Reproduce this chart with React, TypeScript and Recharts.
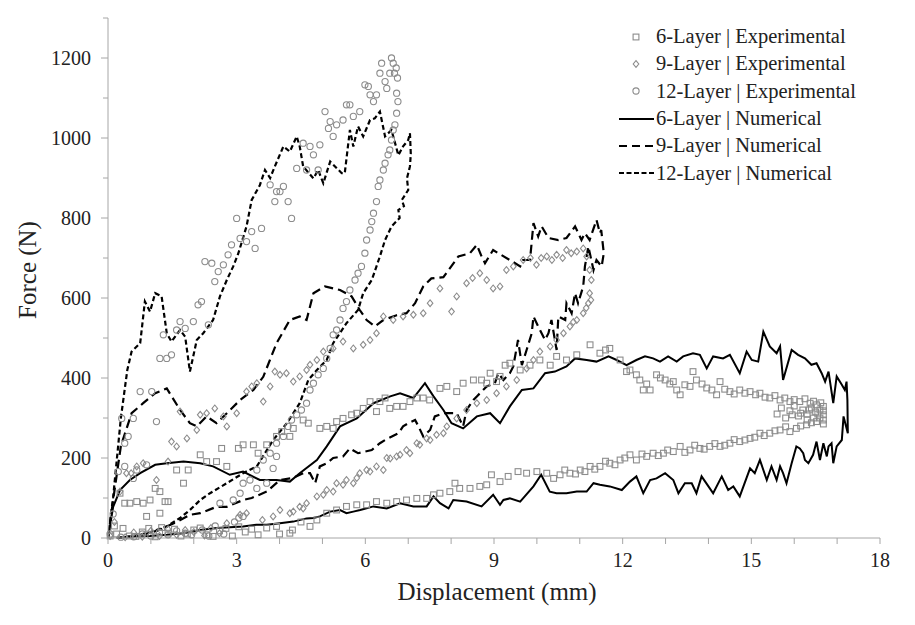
import React from 'react';
import { ComposedChart, Legend, Label, Line, Scatter, XAxis, YAxis } from 'recharts';

type Pair = [number, number];

// Axis ticks
const X_TICKS = [0, 1, 2, 3, 4, 5, 6, 7, 8, 9, 10, 11, 12, 13, 14, 15, 16, 17, 18];
const Y_TICKS = [0, 100, 200, 300, 400, 500, 600, 700, 800, 900, 1000, 1100, 1200, 1300];

// 6-Layer | Experimental (squares), loading then unloading
const exp6Layer: Pair[] = [
  [0.05, 5], [0.15, 30], [0.28, 112], [0.39, 87], [0.51, 87], [0.67, 91], [0.82, 87], [0.9, 54],
  [0.98, 95], [1.1, 124], [1.21, 116], [1.21, 62], [1.33, 91], [1.4, 91], [1.6, 170], [1.76, 137],
  [1.87, 170], [2.15, 208], [2.3, 191], [2.53, 191], [2.65, 224], [2.77, 179], [3.04, 224], [3.15, 233],
  [3.39, 233], [3.5, 212], [3.7, 233], [3.93, 254], [4.05, 266], [4.24, 254], [4.32, 274], [4.55, 295],
  [4.67, 287], [4.94, 274], [5.1, 279], [5.25, 274], [5.33, 291], [5.48, 299], [5.68, 308], [5.8, 312],
  [5.95, 324], [6.11, 341], [6.26, 316], [6.34, 341], [6.46, 350], [6.57, 324], [6.73, 329], [6.88, 329],
  [7.04, 341], [7.2, 350], [7.35, 350], [7.5, 345], [7.74, 374], [7.9, 379], [8.13, 366], [8.28, 387],
  [8.52, 395], [8.71, 395], [8.83, 387], [8.91, 412], [9.06, 391], [9.14, 404], [9.26, 432], [9.37, 437],
  [9.61, 420], [9.84, 432], [10.07, 445], [10.31, 432], [10.46, 454], [10.69, 445], [10.93, 458],
  [11.24, 483], [11.47, 462], [11.6, 470], [11.7, 474], [11.94, 445], [12.09, 416], [12.17, 420],
  [12.32, 408], [12.4, 395], [12.48, 370], [12.56, 385], [12.64, 370], [12.79, 408], [12.88, 400],
  [12.99, 395], [13.1, 385], [13.18, 391], [13.26, 370], [13.34, 358], [13.45, 383], [13.57, 379],
  [13.64, 416], [13.72, 395], [13.85, 385], [13.96, 375], [14.08, 370], [14.19, 358], [14.27, 391],
  [14.38, 372], [14.5, 366], [14.6, 360], [14.73, 370], [14.85, 362], [14.97, 366], [15.1, 358],
  [15.2, 362], [15.32, 352], [15.43, 350], [15.55, 356], [15.67, 345], [15.78, 350], [15.9, 341],
  [16.0, 346], [16.13, 341], [16.25, 348], [16.37, 337], [16.45, 342], [16.52, 333], [16.62, 338],
  [16.68, 329], [16.6, 320], [16.5, 315], [16.4, 325], [16.3, 310], [16.68, 308], [16.6, 300],
  [16.45, 300], [16.3, 295], [16.2, 320], [16.0, 330], [16.1, 305], [15.9, 318], [15.8, 300],
  [15.7, 325], [15.6, 310], [16.55, 310], [16.68, 318], [16.35, 320], [16.15, 312], [15.95, 308],
  [16.68, 295], [16.68, 285], [16.52, 291], [16.4, 288], [16.29, 283], [16.15, 280], [16.05, 274],
  [15.9, 266], [15.8, 278], [15.67, 270], [15.55, 268], [15.43, 262], [15.3, 256], [15.2, 262],
  [15.08, 252], [14.97, 249], [14.85, 245], [14.73, 241], [14.6, 246], [14.5, 237], [14.38, 232],
  [14.27, 229], [14.15, 236], [14.03, 229], [13.9, 222], [13.8, 224], [13.68, 232], [13.57, 220],
  [13.45, 214], [13.34, 229], [13.18, 216], [13.05, 220], [12.95, 212], [12.83, 206], [12.71, 212],
  [12.56, 204], [12.45, 210], [12.32, 195], [12.17, 208], [12.05, 200], [11.94, 195], [11.82, 183],
  [11.7, 187], [11.6, 192], [11.47, 179], [11.35, 172], [11.24, 179], [11.12, 166], [11.01, 170],
  [10.9, 160], [10.77, 162], [10.65, 170], [10.54, 158], [10.39, 149], [10.23, 162], [10.0, 166],
  [9.76, 162], [9.56, 166], [9.33, 154], [9.14, 141], [8.94, 158], [8.83, 133], [8.67, 129], [8.44, 124],
  [8.2, 124], [8.09, 137], [7.97, 116], [7.74, 112], [7.59, 108], [7.43, 99], [7.2, 99], [6.96, 95],
  [6.73, 91], [6.5, 87], [6.26, 91], [6.03, 83], [5.8, 83], [5.56, 79], [5.33, 70], [5.1, 62], [4.87, 45],
  [4.71, 29], [4.5, 40], [4.3, 20], [4.24, 12], [4.0, 10], [3.93, 29], [3.7, 25], [3.5, 8], [3.35, 22],
  [3.2, 15], [3.05, 28], [2.9, 5], [2.75, 24], [2.6, 18], [2.45, 4], [2.3, 8], [2.15, 25], [2.0, 20],
  [1.85, 10], [1.7, 5], [1.55, 22], [1.4, 12], [1.25, 26], [1.1, 3], [0.95, 24], [0.8, 15], [0.65, 4],
  [0.5, 5], [0.35, 24], [0.2, 10],
];

// 9-Layer | Experimental (diamonds)
const exp9Layer: Pair[] = [
  [0.05, 5], [0.15, 40], [0.28, 116], [0.43, 162], [0.54, 162], [0.67, 179], [0.82, 187], [1.13, 145],
  [1.4, 191], [1.48, 241], [1.6, 229], [1.68, 316], [1.84, 249], [2.07, 270], [2.15, 308], [2.3, 312],
  [2.49, 324], [2.69, 304], [2.77, 279], [3.0, 312], [3.23, 366], [3.35, 379], [3.47, 387], [3.62, 341],
  [3.78, 379], [3.89, 416], [4.01, 408], [4.16, 412], [4.32, 391], [4.47, 404], [4.63, 420], [4.71, 433],
  [4.87, 445], [5.02, 466], [5.25, 474], [5.48, 491], [5.72, 474], [5.95, 483], [6.11, 495], [6.26, 512],
  [6.42, 554], [6.65, 545], [6.88, 554], [7.12, 558], [7.35, 562], [7.51, 587], [7.74, 624], [8.01, 566],
  [8.13, 604], [8.36, 637], [8.5, 650], [8.67, 662], [8.83, 645], [8.98, 624], [9.14, 629], [9.29, 670],
  [9.45, 679], [9.68, 695], [9.85, 700], [9.99, 683], [10.1, 700], [10.23, 704], [10.35, 695],
  [10.46, 708], [10.6, 700], [10.69, 720], [10.8, 712], [10.93, 716], [11.08, 724], [11.16, 704],
  [11.23, 670], [11.27, 645], [11.23, 612], [11.26, 595], [11.2, 587], [11.08, 562], [11.15, 575],
  [10.93, 545], [10.77, 529], [10.85, 540], [10.62, 512], [10.46, 495], [10.31, 479], [10.07, 466],
  [9.92, 445], [9.76, 424], [9.53, 395], [9.29, 379], [9.06, 362], [8.83, 345], [8.6, 337], [8.36, 320],
  [8.13, 299], [7.9, 279], [7.82, 262], [7.66, 258], [7.51, 245], [7.43, 249], [7.27, 233], [7.2, 237],
  [7.04, 212], [6.96, 220], [6.81, 208], [6.73, 204], [6.58, 199], [6.5, 200], [6.42, 170], [6.26, 179],
  [6.11, 166], [6.03, 170], [5.87, 162], [5.8, 150], [5.72, 137], [5.56, 145], [5.48, 133], [5.33, 137],
  [5.25, 116], [5.1, 120], [5.02, 108], [4.87, 104], [4.63, 87], [4.55, 74], [4.47, 78], [4.32, 66],
  [4.24, 62], [4.01, 70], [3.85, 54], [3.6, 45], [3.23, 62], [3.08, 58], [2.77, 37], [2.6, 12],
  [2.4, 25], [2.25, 6], [2.0, 15], [1.8, 20], [1.6, 8], [1.4, 22], [1.2, 5], [1.0, 18], [0.8, 3],
  [0.6, 14], [0.4, 2],
];

// 12-Layer | Experimental (circles)
const exp12Layer: Pair[] = [
  [0.05, 10], [0.12, 60], [0.24, 166], [0.32, 299], [0.39, 237], [0.47, 254], [0.39, 179], [0.59, 299],
  [0.59, 149], [0.67, 170], [0.75, 366], [0.9, 183], [1.02, 366], [1.13, 291], [1.21, 449], [1.37, 449],
  [1.48, 458], [1.29, 508], [1.6, 520], [1.68, 541], [1.8, 524], [1.99, 541], [2.1, 583], [2.18, 591],
  [2.34, 533], [2.26, 691], [2.42, 687], [2.49, 641], [2.57, 666], [2.69, 683], [2.8, 708], [2.88, 733],
  [3.0, 799], [3.08, 749], [3.23, 741], [3.35, 766], [3.43, 724], [3.58, 774], [3.78, 883], [3.89, 841],
  [3.93, 866], [4.01, 866], [4.09, 879], [4.2, 841], [4.28, 799], [4.4, 924], [4.55, 987], [4.63, 920],
  [4.71, 979], [4.79, 958], [4.9, 920], [4.94, 983], [5.06, 1066], [5.14, 1024], [5.18, 1041],
  [5.25, 1004], [5.33, 1033], [5.48, 1045], [5.56, 1083], [5.64, 1083], [5.72, 1054], [5.87, 1066],
  [5.99, 1133], [6.07, 1129], [6.11, 1108], [6.19, 1091], [6.26, 1108], [6.34, 1162], [6.38, 1187],
  [6.46, 1141], [6.5, 1124], [6.57, 1162], [6.61, 1200], [6.65, 1187], [6.68, 1162], [6.72, 1175],
  [6.75, 1150], [6.73, 1112], [6.76, 1091], [6.73, 1062], [6.69, 1033], [6.65, 1020], [6.61, 995],
  [6.57, 970], [6.53, 958], [6.46, 937], [6.42, 920], [6.34, 895], [6.3, 879], [6.26, 841], [6.19, 812],
  [6.15, 791], [6.11, 770], [6.03, 745], [5.99, 712], [5.91, 679], [5.83, 662], [5.76, 645], [5.64, 620],
  [5.56, 591], [5.48, 574], [5.41, 545], [5.33, 520], [5.25, 508], [5.18, 474], [5.1, 449], [5.02, 424],
  [4.9, 408], [4.79, 387], [4.71, 370], [4.63, 337], [4.51, 320], [4.4, 308], [4.28, 295], [4.2, 279],
  [4.09, 254], [3.93, 204], [3.93, 237], [3.85, 174], [3.78, 212], [3.7, 137], [3.62, 195], [3.47, 124],
  [3.47, 170], [3.31, 145], [3.15, 137], [3.08, 112], [2.92, 95], [2.61, 87], [3.15, 54], [3.05, 50],
  [2.95, 40], [2.7, 10], [2.5, 30], [2.35, 5], [2.2, 20], [1.95, 8], [1.8, 12], [1.6, 18], [1.4, 8],
  [1.2, 14], [1.0, 5], [0.8, 10], [0.6, 3], [0.3, 2],
];

// 6-Layer | Numerical (solid)
const num6Layer: Pair[] = [
  [0, 0], [0.12, 78], [0.28, 120], [0.51, 145], [0.75, 162], [1.1, 183], [1.37, 187], [1.76, 191],
  [2.15, 187], [2.45, 179], [2.84, 158], [3.15, 166], [3.54, 145], [3.93, 145], [4.24, 141], [4.47, 162],
  [4.87, 195], [5.1, 229], [5.41, 279], [5.8, 299], [6.19, 337], [6.58, 354], [6.81, 362], [7.12, 350],
  [7.39, 387], [7.59, 354], [7.82, 320], [8.01, 287], [8.28, 274], [8.6, 304], [8.91, 312], [9.14, 287],
  [9.37, 329], [9.65, 370], [9.92, 374], [10.19, 412], [10.42, 416], [10.69, 429], [10.89, 449],
  [11.16, 445], [11.39, 441], [11.67, 454], [11.86, 445], [12.09, 432], [12.32, 445], [12.52, 454],
  [12.71, 449], [12.87, 441], [13.06, 454], [13.26, 441], [13.41, 454], [13.64, 462], [13.8, 458],
  [13.96, 424], [14.11, 454], [14.34, 449], [14.5, 458], [14.73, 412], [14.89, 466], [15.01, 445],
  [15.16, 441], [15.28, 516], [15.43, 479], [15.59, 462], [15.67, 479], [15.74, 395], [15.94, 470],
  [16.09, 458], [16.25, 449], [16.4, 433], [16.52, 437], [16.64, 412], [16.72, 391], [16.8, 416],
  [16.91, 337], [16.99, 404], [17.11, 383], [17.18, 370], [17.22, 391], [17.24, 345], [17.25, 262],
  [17.15, 304], [17.11, 245], [16.99, 229], [16.91, 187], [16.87, 237], [16.8, 229], [16.76, 204],
  [16.68, 237], [16.6, 195], [16.52, 241], [16.44, 208], [16.33, 187], [16.25, 195], [16.21, 212],
  [16.13, 224], [16.05, 229], [15.94, 187], [15.82, 137], [15.74, 162], [15.67, 179], [15.59, 145],
  [15.47, 179], [15.36, 145], [15.2, 195], [15.08, 162], [14.97, 174], [14.73, 104], [14.58, 129],
  [14.46, 120], [14.31, 154], [14.11, 112], [14.0, 129], [13.84, 154], [13.72, 112], [13.61, 137],
  [13.45, 137], [13.3, 112], [13.18, 145], [12.99, 162], [12.79, 149], [12.64, 145], [12.48, 112],
  [12.32, 154], [12.17, 141], [11.98, 120], [11.7, 129], [11.47, 133], [11.32, 137], [11.16, 116],
  [10.93, 116], [10.69, 112], [10.46, 112], [10.3, 116], [10.1, 158], [9.92, 129], [9.61, 91],
  [9.37, 99], [9.22, 95], [9.14, 83], [8.98, 108], [8.71, 79], [8.36, 91], [8.05, 95], [7.94, 74],
  [7.74, 87], [7.59, 104], [7.43, 79], [7.12, 79], [6.81, 87], [6.5, 74], [6.19, 79], [5.88, 70],
  [5.72, 66], [5.56, 62], [5.41, 70], [5.18, 66], [4.94, 54], [4.79, 50], [4.63, 49], [4.32, 41],
  [4.01, 37], [3.7, 33], [3.46, 33], [3.15, 29], [2.84, 27], [2.53, 25], [2.15, 20], [1.76, 12],
  [1.37, 8], [0.98, 5], [0.6, 4], [0.2, 0],
];

// 9-Layer | Numerical (long dashes)
const num9Layer: Pair[] = [
  [0, 0], [0.12, 95], [0.3, 230], [0.55, 312], [0.82, 337], [1.1, 362], [1.37, 374], [1.68, 320],
  [1.91, 287], [2.07, 279], [2.3, 304], [2.53, 287], [2.77, 312], [3.08, 345], [3.39, 370], [3.62, 403],
  [3.93, 487], [4.24, 545], [4.47, 554], [4.63, 545], [4.79, 612], [5.06, 629], [5.41, 620], [5.68, 604],
  [5.87, 570], [6.03, 545], [6.22, 529], [6.42, 545], [6.73, 557], [6.96, 562], [7.16, 587], [7.35, 629],
  [7.54, 649], [7.82, 652], [8.17, 704], [8.44, 712], [8.6, 733], [8.71, 704], [8.79, 687], [8.98, 720],
  [9.1, 712], [9.37, 695], [9.61, 679], [9.68, 695], [9.84, 695], [9.92, 787], [10.03, 754],
  [10.11, 779], [10.27, 750], [10.5, 745], [10.69, 750], [10.89, 779], [11.04, 745], [11.12, 762],
  [11.23, 745], [11.39, 795], [11.47, 762], [11.5, 770], [11.56, 712], [11.51, 679], [11.39, 695],
  [11.32, 670], [11.2, 729], [11.12, 679], [11.08, 629], [10.96, 587], [10.89, 612], [10.81, 562],
  [10.69, 587], [10.66, 545], [10.5, 554], [10.46, 470], [10.34, 545], [10.27, 512], [10.19, 495],
  [10.03, 529], [9.92, 554], [9.88, 512], [9.76, 470], [9.65, 432], [9.56, 495], [9.45, 429], [9.37, 412],
  [9.22, 395], [9.1, 412], [9.02, 387], [8.83, 379], [8.6, 354], [8.52, 345], [8.36, 320], [8.28, 279],
  [8.13, 312], [7.82, 312], [7.62, 304], [7.51, 270], [7.35, 254], [7.24, 279], [7.16, 295], [7.0, 287],
  [6.88, 279], [6.77, 262], [6.46, 245], [6.34, 237], [6.15, 220], [5.83, 212], [5.64, 224], [5.48, 204],
  [5.25, 200], [5.1, 187], [4.94, 179], [4.83, 137], [4.71, 162], [4.55, 162], [4.3, 150], [4.01, 145],
  [3.7, 116], [3.35, 100], [3.15, 95], [2.77, 78], [2.53, 78], [2.15, 62], [1.91, 58], [1.6, 40],
  [1.2, 20], [0.8, 8], [0.3, 0],
];

// 12-Layer | Numerical (short dashes)
const num12Layer: Pair[] = [
  [0, 0], [0.12, 102], [0.3, 300], [0.45, 420], [0.55, 466], [0.75, 487], [0.86, 591], [0.98, 566],
  [1.1, 612], [1.25, 604], [1.37, 512], [1.48, 491], [1.68, 520], [1.8, 503], [1.91, 416], [2.07, 495],
  [2.22, 512], [2.45, 545], [2.61, 604], [2.77, 645], [2.92, 679], [3.04, 712], [3.23, 779], [3.35, 845],
  [3.54, 882], [3.66, 920], [3.78, 900], [3.89, 929], [4.09, 979], [4.24, 966], [4.4, 1004], [4.47, 979],
  [4.55, 929], [4.79, 899], [4.9, 920], [5.02, 887], [5.18, 941], [5.45, 912], [5.52, 912], [5.64, 1020],
  [5.72, 979], [5.83, 1029], [5.95, 1004], [6.11, 1045], [6.22, 1049], [6.34, 1066], [6.46, 1004],
  [6.61, 1020], [6.77, 957], [6.88, 979], [7.0, 995], [7.04, 1012], [7.06, 960], [7.04, 929],
  [6.97, 899], [7.0, 870], [6.85, 845], [6.9, 830], [6.77, 820], [6.8, 800], [6.61, 779], [6.46, 745],
  [6.34, 704], [6.15, 645], [5.95, 612], [5.83, 570], [5.56, 537], [5.25, 487], [5.1, 445], [4.87, 420],
  [4.67, 395], [4.47, 337], [4.17, 287], [3.85, 245], [3.47, 179], [3.15, 162], [2.77, 137], [2.38, 112],
  [2.15, 95], [1.91, 70], [1.68, 50], [1.37, 29], [1.13, 20], [0.98, 14], [0.6, 5], [0.2, 0],
];

const toPoints = (pairs: Pair[]) => pairs.map(([x, y]) => ({ x, y }));

const GREY = '#8c8c8c';
const AXIS = '#a6a6a6';
const FONT = '"Liberation Serif", "DejaVu Serif", serif';

const SquareDot = (props: { cx?: number; cy?: number }) => {
  const { cx = 0, cy = 0 } = props;
  return <rect x={cx - 2.9} y={cy - 2.9} width={5.8} height={5.8} fill="none" stroke={GREY} strokeWidth={1.1} />;
};

const DiamondDot = (props: { cx?: number; cy?: number }) => {
  const { cx = 0, cy = 0 } = props;
  return (
    <path
      d={`M${cx},${cy - 3.4}L${cx + 2.8},${cy}L${cx},${cy + 3.4}L${cx - 2.8},${cy}Z`}
      fill="none"
      stroke={GREY}
      strokeWidth={1.1}
    />
  );
};

const CircleDot = (props: { cx?: number; cy?: number }) => {
  const { cx = 0, cy = 0 } = props;
  return <circle cx={cx} cy={cy} r={3.1} fill="none" stroke={GREY} strokeWidth={1.1} />;
};

const XTick = (props: { x?: number; y?: number; payload?: { value: number } }) => {
  const { x = 0, y = 0, payload } = props;
  const v = payload?.value ?? 0;
  return (
    <g>
      <line x1={x} x2={x} y1={y} y2={y + 6} stroke={AXIS} />
      {v % 3 === 0 && (
        <text x={x} y={y + 29} textAnchor="middle" fontSize={20} fontFamily={FONT} fill="#222">
          {v}
        </text>
      )}
    </g>
  );
};

const YTick = (props: { x?: number; y?: number; payload?: { value: number } }) => {
  const { x = 0, y = 0, payload } = props;
  const v = payload?.value ?? 0;
  const major = v % 200 === 0;
  return (
    <g>
      <line x1={x - (major ? 7 : 5)} x2={x} y1={y} y2={y} stroke={AXIS} />
      {major && (
        <text x={x - 17} y={y} dy="0.35em" textAnchor="end" fontSize={20} fontFamily={FONT} fill="#222">
          {v}
        </text>
      )}
    </g>
  );
};

const legendItems = [
  { name: '6-Layer | Experimental', kind: 'square' },
  { name: '9-Layer | Experimental', kind: 'diamond' },
  { name: '12-Layer | Experimental', kind: 'circle' },
  { name: '6-Layer | Numerical', kind: 'solid' },
  { name: '9-Layer | Numerical', kind: 'long' },
  { name: '12-Layer | Numerical', kind: 'short' },
];

const renderLegend = () => (
  <div style={{ fontFamily: FONT, fontSize: 20.5, color: '#222' }}>
    {legendItems.map((item) => (
      <div key={item.name} style={{ display: 'flex', alignItems: 'center', height: 27.3 }}>
        <svg width={38} height={14} style={{ flex: 'none' }}>
          {item.kind === 'square' && <SquareDot cx={18} cy={7} />}
          {item.kind === 'diamond' && <DiamondDot cx={18} cy={7} />}
          {item.kind === 'circle' && <CircleDot cx={18} cy={7} />}
          {item.kind === 'solid' && <line x1={1} x2={36} y1={7} y2={7} stroke="#000" strokeWidth={2} />}
          {item.kind === 'long' && (
            <line x1={1} x2={36} y1={7} y2={7} stroke="#000" strokeWidth={2} strokeDasharray="8 5" />
          )}
          {item.kind === 'short' && (
            <line x1={1} x2={36} y1={7} y2={7} stroke="#000" strokeWidth={2} strokeDasharray="5 2.5" />
          )}
        </svg>
        <span style={{ whiteSpace: 'nowrap' }}>{item.name}</span>
      </div>
    ))}
  </div>
);

export default function App() {
  return (
    <div style={{ position: 'absolute', left: 0, top: 0, background: '#fff' }}>
      <ComposedChart width={915} height={625} margin={{ top: 18, right: 35, bottom: 0, left: 0 }}>
        <XAxis
          type="number"
          dataKey="x"
          domain={[0, 18]}
          ticks={X_TICKS}
          interval={0}
          height={87}
          stroke={AXIS}
          tickLine={false}
          tickSize={0}
          tickMargin={0}
          tick={<XTick />}
        >
          <Label
            content={() => (
              <text x={497} y={600} textAnchor="middle" fontSize={25} fontFamily={FONT} fill="#222">
                Displacement (mm)
              </text>
            )}
          />
        </XAxis>
        <YAxis
          type="number"
          dataKey="y"
          domain={[0, 1300]}
          ticks={Y_TICKS}
          interval={0}
          width={108}
          stroke={AXIS}
          tickLine={false}
          tickSize={0}
          tickMargin={0}
          tick={<YTick />}
        >
          <Label
            content={() => (
              <text
                x={0}
                y={0}
                transform="translate(36 270) rotate(-90)"
                textAnchor="middle"
                fontSize={25}
                fontFamily={FONT}
                fill="#222"
              >
                Force (N)
              </text>
            )}
          />
        </YAxis>
        <Legend
          layout="vertical"
          align="center"
          verticalAlign="middle"
          content={renderLegend}
          wrapperStyle={{ left: 618, top: 23, width: 290 }}
        />
        <Scatter name="6-Layer | Experimental" data={toPoints(exp6Layer)} shape={<SquareDot />} isAnimationActive={false} />
        <Scatter name="9-Layer | Experimental" data={toPoints(exp9Layer)} shape={<DiamondDot />} isAnimationActive={false} />
        <Scatter name="12-Layer | Experimental" data={toPoints(exp12Layer)} shape={<CircleDot />} isAnimationActive={false} />
        <Line
          name="6-Layer | Numerical"
          data={toPoints(num6Layer)}
          dataKey="y"
          type="linear"
          stroke="#000"
          strokeWidth={2}
          dot={false}
          activeDot={false}
          isAnimationActive={false}
        />
        <Line
          name="9-Layer | Numerical"
          data={toPoints(num9Layer)}
          dataKey="y"
          type="linear"
          stroke="#000"
          strokeWidth={2.2}
          strokeDasharray="9 5"
          dot={false}
          activeDot={false}
          isAnimationActive={false}
        />
        <Line
          name="12-Layer | Numerical"
          data={toPoints(num12Layer)}
          dataKey="y"
          type="linear"
          stroke="#000"
          strokeWidth={2.2}
          strokeDasharray="5 3"
          dot={false}
          activeDot={false}
          isAnimationActive={false}
        />
      </ComposedChart>
    </div>
  );
}
